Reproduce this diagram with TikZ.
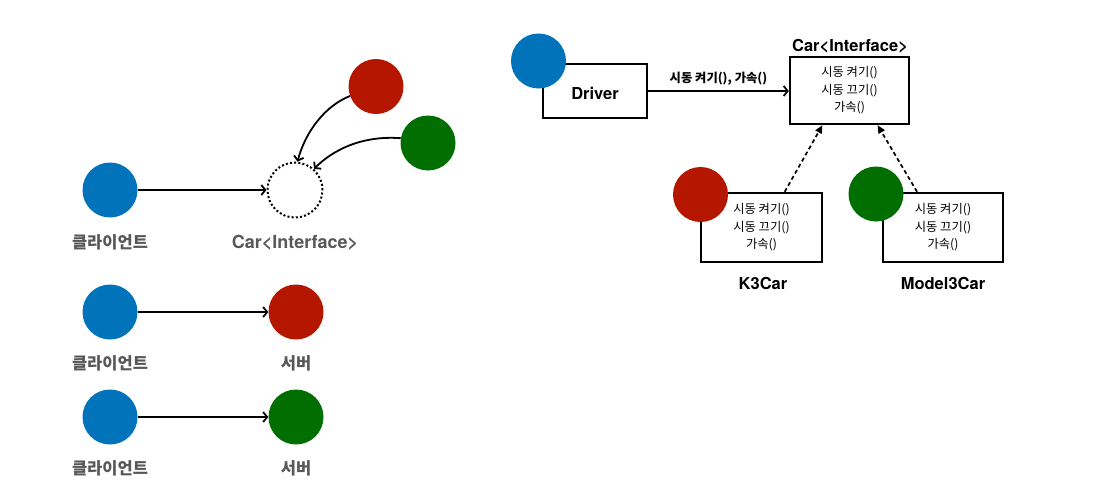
\documentclass[tikz,border=0pt]{standalone}
\usepackage{fontspec}
\setmainfont{TeX Gyre Heros}
\newfontfamily\kr{Noto Sans CJK KR}
\usetikzlibrary{arrows.meta}
\definecolor{cblue}{RGB}{0,115,187}
\definecolor{cred}{RGB}{180,22,0}
\definecolor{cgreen}{RGB}{0,110,0}
\definecolor{lgray}{RGB}{88,88,88}

\begin{document}
\begin{tikzpicture}[
  x=1pt, y=-1pt,
  ball/.style={circle, fill=#1, minimum size=55pt, inner sep=0pt},
  ball/.default={cblue},
  cls/.style={draw, line width=2.4pt, inner sep=0pt, align=center,
    font=\kr\fontsize{12.3}{17.5}\selectfont},
  glbl/.style={text=lgray, font=\bfseries\fontsize{18}{20}\selectfont},
  klbl/.style={text=lgray, font=\kr\bfseries\fontsize{16.5}{18}\selectfont},
  rlbl/.style={font=\bfseries\fontsize{16.5}{18}\selectfont},
  open/.style={-{Straight Barb[length=4pt, width=10pt]}, line width=1.8pt},
  impl/.style={-{Triangle[length=8pt, width=7pt]}, dash pattern=on 4pt off 3pt, line width=1.7pt}
]
  \useasboundingbox (0,0) rectangle (1095,496);

  % client -> interface
  \node[ball] (cl) at (110,190) {};
  \node[circle, draw, dash pattern=on 2pt off 2.2pt, line width=2pt, minimum size=55pt, inner sep=0pt] (iface) at (295,190) {};
  \node[ball=cred] (r1) at (376,86.5) {};
  \node[ball=cgreen] (g1) at (428,143) {};
  \draw[open] (cl) -- (iface);
  \draw[open] (r1.200) .. controls +(-25,10) and +(8,-30) .. (iface.85);
  \draw[open] (g1.170) .. controls +(-40,-3) and +(18,-18) .. (iface.48);
  \node[klbl] (cllbl) at (110,242) {클라이언트};
  \node[glbl] (ifacelbl) at (295,243) {Car<Interface>};

  % client -> server
  \foreach \n/\y/\c in {1/312/cred, 2/417/cgreen} {
    \node[ball] (c\n) at (110,\y) {};
    \node[ball=\c] (s\n) at (296,\y) {};
    \draw[open] (c\n) -- (s\n);
    \node[klbl] (cl\n) at (110,\y+51) {클라이언트};
    \node[klbl] (sl\n) at (296,\y+51) {서버};
  }

  % driver and car
  \node[draw, line width=2.4pt, minimum width=104pt, minimum height=54pt] (drv) at (595,91) {};
  \node[ball] (drvball) at (538.5,61) {};
  \node[rlbl] (drvtxt) at (595,93) {Driver};
  \node[cls, minimum width=119pt, minimum height=67pt] (car) at (849.5,90.5)
    {시동 켜기()\\시동 끄기()\\가속()};
  \node[rlbl] (carlbl) at (850,46) {Car<Interface>};
  \draw[open] (drv.east) -- (drv.east -| car.west)
    node[midway, above=1pt, font=\kr\bfseries\fontsize{12.3}{14}\selectfont] {시동 켜기(), 가속()};

  % implementations
  \node[cls, minimum width=121pt, minimum height=69pt] (k3) at (761.5,227.5)
    {시동 켜기()\\시동 끄기()\\가속()};
  \node[ball=cred] (k3ball) at (700.5,194.5) {};
  \node[rlbl] (k3lbl) at (763,283) {K3Car};
  \node[cls, minimum width=120pt, minimum height=69pt] (m3) at (943,227.5)
    {시동 켜기()\\시동 끄기()\\가속()};
  \node[ball=cgreen] (m3ball) at (876,194) {};
  \node[rlbl] (m3lbl) at (943,283) {Model3Car};
  \draw[impl] (k3.57) -- (car.-128);
  \draw[impl] (m3.126) -- (car.-51);
\end{tikzpicture}
\end{document}
